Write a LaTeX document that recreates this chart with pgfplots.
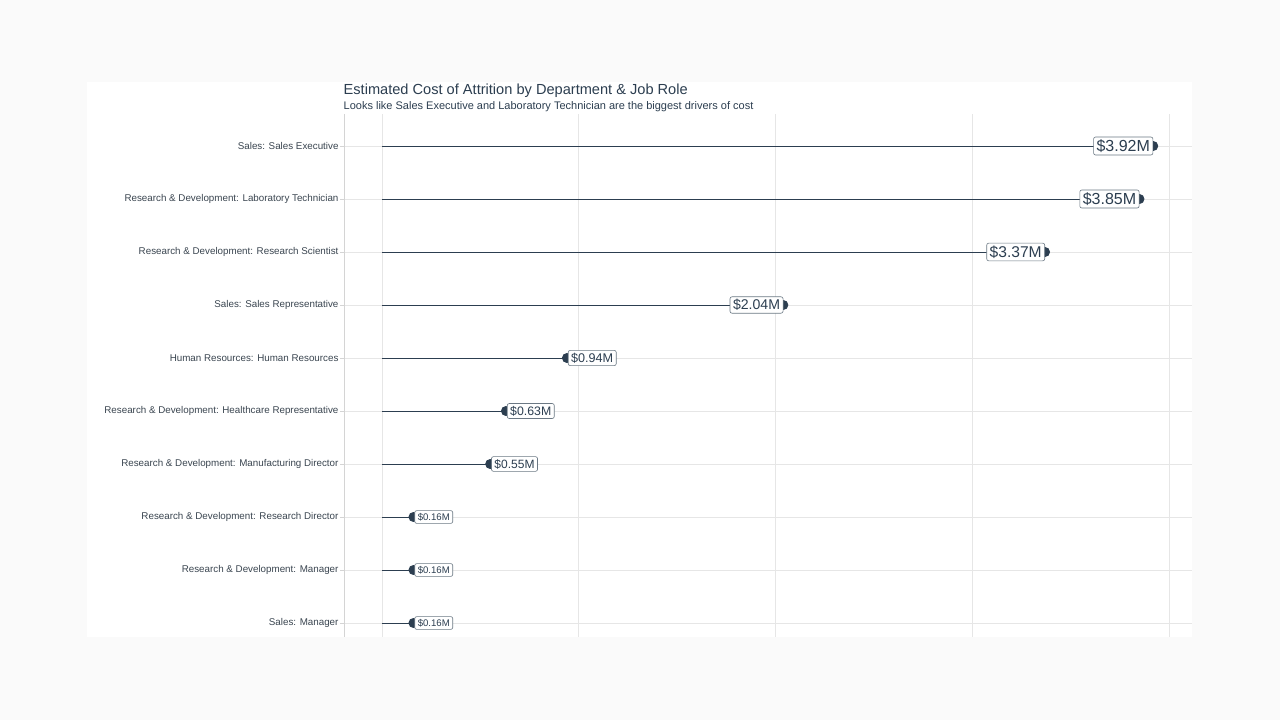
\documentclass[border=0pt]{standalone}
\usepackage{pgfplots}
\pgfplotsset{compat=1.18}
\usepackage{pgfplotstable}
\usepackage{fontspec}
\setmainfont{Liberation Sans}
\definecolor{navy}{HTML}{2C3E50}
\definecolor{bgc}{HTML}{FAFAFA}
\definecolor{gridc}{HTML}{E6E6E6}
\definecolor{axc}{HTML}{D4D4D4}
\definecolor{tickc}{HTML}{3A4550}

\pgfplotstableread{
y x fs
10 3.92 16
9 3.85 16
8 3.37 15.6
7 2.04 14.1
}\bigtab
\pgfplotstableread{
y x fs
6 0.94 12.6
5 0.63 12.3
4 0.55 12
3 0.16 9.6
2 0.16 9.6
1 0.16 9.6
}\smalltab

\begin{document}
\begin{tikzpicture}[x=1pt,y=1pt]
\fill[bgc] (0,0) rectangle (1280,720);
\useasboundingbox (0,0) rectangle (1280,720);
\fill[white] (87,83) rectangle (1192,638);
\node[anchor=base west, text=navy, font=\fontsize{14.6}{16}\selectfont, inner sep=0pt] at (343.5,625) {Estimated Cost of Attrition by Department \& Job Role};
\node[anchor=base west, text=navy, font=\fontsize{11}{12}\selectfont, inner sep=0pt] at (343.5,610) {Looks like Sales Executive and Laboratory Technician are the biggest drivers of cost};
\begin{axis}[
  at={(344pt,83pt)}, anchor=south west,
  width=848pt, height=523pt, scale only axis,
  xmin=-0.193, xmax=4.117, ymin=0.736, ymax=10.604,
  xtick={0,1,2,3,4}, xticklabels={},
  ytick={1,...,10},
  yticklabels={Sales: Manager, Research \& Development: Manager, Research \& Development: Research Director, Research \& Development: Manufacturing Director, Research \& Development: Healthcare Representative, Human Resources: Human Resources, Sales: Sales Representative, Research \& Development: Research Scientist, Research \& Development: Laboratory Technician, Sales: Sales Executive},
  yticklabel style={font=\fontsize{9.8}{11}\selectfont, text=tickc, xshift=2pt},
  xmajorgrids, ymajorgrids,
  grid style={gridc, line width=0.8pt},
  axis x line*=top, axis y line*=left,
  axis line style={axc, line width=0.8pt, -},
  x axis line style={draw=none},
  xtick style={draw=none},
  ytick style={axc, line width=0.8pt},
  tick align=outside, major tick length=4pt,
  /pgf/number format/assume math mode=true,
  clip=false,
]
\addplot[xcomb, navy, line width=0.9pt, mark=*, mark size=4.5pt, mark options={fill=navy, draw=navy},
  point meta=x,
  visualization depends on={\thisrow{fs}\as\fs},
  nodes near coords={\$\pgfmathprintnumber[fixed,precision=2,fixed zerofill,assume math mode=true]{\pgfplotspointmeta}M},
  every node near coord/.append style={anchor=east, font=\fontsize{\fs}{\fs}\selectfont, text=navy, fill=white, draw=navy!70, line width=0.6pt, rounded corners=2pt, inner xsep=3pt, inner ysep=2.5pt, xshift=0pt},
] table[x=x,y=y] {\bigtab};
\addplot[xcomb, navy, line width=0.9pt, mark=*, mark size=4.5pt, mark options={fill=navy, draw=navy},
  point meta=x,
  visualization depends on={\thisrow{fs}\as\fs},
  nodes near coords={\$\pgfmathprintnumber[fixed,precision=2,fixed zerofill,assume math mode=true]{\pgfplotspointmeta}M},
  every node near coord/.append style={anchor=west, font=\fontsize{\fs}{\fs}\selectfont, text=navy, fill=white, draw=navy!70, line width=0.6pt, rounded corners=2pt, inner xsep=3pt, inner ysep=2.5pt, xshift=1pt},
] table[x=x,y=y] {\smalltab};
\end{axis}
\end{tikzpicture}
\end{document}
